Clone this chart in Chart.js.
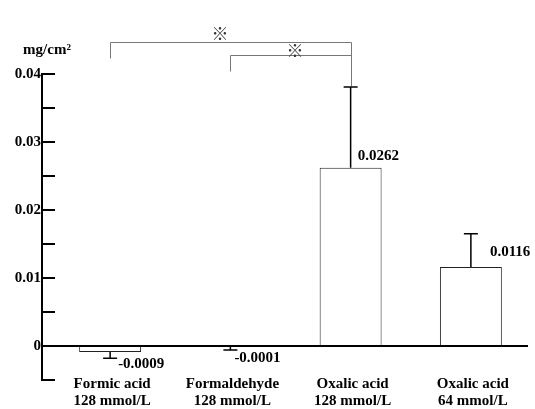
<!DOCTYPE html>
<html>
<head>
<meta charset="utf-8">
<script src="https://cdn.jsdelivr.net/npm/chart.js@4"></script>
<style>body{margin:0;background:#fff}</style>
</head>
<body>
<canvas id="myChart" width="535" height="409"></canvas>
<script>
// Data
const categories = [['Formic acid', '128 mmol/L'], ['Formaldehyde', '128 mmol/L'], ['Oxalic acid', '128 mmol/L'], ['Oxalic acid', '64 mmol/L']];
const means = [-0.0009, -0.0001, 0.0262, 0.0116];
const sds = [0.0009, 0.0005, 0.0119, 0.0049];
const yTickLabels = [0, 0.01, 0.02, 0.03, 0.04];
const sigPairs = [[0, 2], [1, 2]]; // pairs marked with ※

const serif = '"Liberation Serif", "Times New Roman", serif';
// where the value labels sit, relative to the bar end (px)
const labelOffsets = [[8, 12], [4, 11], [7, -12], [19, -15]];

const overlay = {
    id: 'overlay',
    afterDraw(chart) {
        const c = chart.ctx;
        const x = chart.scales.x, y = chart.scales.y;
        const axisX = chart.chartArea.left - 8;
        c.save();

        // axes
        c.strokeStyle = '#000';
        c.lineWidth = 2;
        c.beginPath();
        c.moveTo(axisX, y.getPixelForValue(0.04) - 1);
        c.lineTo(axisX, y.getPixelForValue(-0.005) + 1);
        c.moveTo(axisX, y.getPixelForValue(0));
        c.lineTo(chart.chartArea.right - 3, y.getPixelForValue(0));
        for (let k = -1; k <= 8; k++) {
            const py = y.getPixelForValue(k * 0.005);
            c.moveTo(axisX, py);
            c.lineTo(axisX + 13, py);
        }
        c.stroke();

        // error bars
        c.lineWidth = 1.5;
        means.forEach((m, i) => {
            const cx = x.getPixelForValue(i);
            const end = m >= 0 ? m + sds[i] : m - sds[i];
            const p0 = y.getPixelForValue(m), p1 = y.getPixelForValue(end);
            c.beginPath();
            c.moveTo(cx, p0);
            c.lineTo(cx, p1);
            c.moveTo(cx - 7, p1);
            c.lineTo(cx + 7, p1);
            c.stroke();
        });

        // value labels
        c.fillStyle = '#000';
        c.font = 'bold 15px ' + serif;
        c.textAlign = 'left';
        c.textBaseline = 'middle';
        means.forEach((m, i) => {
            const cx = x.getPixelForValue(i);
            c.fillText(m.toFixed(4), cx + labelOffsets[i][0], y.getPixelForValue(m) + labelOffsets[i][1]);
        });

        // category labels
        c.textAlign = 'center';
        categories.forEach((lines, i) => {
            const cx = x.getPixelForValue(i) + 2;
            lines.forEach((t, k) => c.fillText(t, cx, 384 + k * 17));
        });

        // unit
        c.fillText('mg/cm²', 47, 50);

        // significance brackets
        c.strokeStyle = '#777';
        c.lineWidth = 1;
        const rows = [42, 55];
        sigPairs.forEach((pr, j) => {
            const xa = Math.round(x.getPixelForValue(pr[0])) + 0.5;
            const xb = Math.round(x.getPixelForValue(pr[1])) + 0.5;
            const top = rows[j] + 0.5;
            c.beginPath();
            c.moveTo(xa, top + 16);
            c.lineTo(xa, top);
            c.lineTo(xb, top);
            c.lineTo(xb, y.getPixelForValue(means[pr[1]] + sds[pr[1]]) - 1);
            c.stroke();
            c.fillStyle = '#333';
            c.font = 'bold 17px "Noto Sans CJK JP"';
            c.fillText('※', j === 0 ? (xa + xb) / 2 - 11 : (xa + xb) / 2 + 4, top - (j === 0 ? 9 : 5));
        });
        c.restore();
    }
};

const ctx = document.getElementById('myChart').getContext('2d');
const myChart = new Chart(ctx, {
    type: 'bar',
    data: {
        labels: categories,
        datasets: [{
            data: means,
            backgroundColor: '#fff',
            borderColor: '#222',
            borderWidth: 1,
            borderSkipped: false,
            categoryPercentage: 1,
            barPercentage: 0.515
        }]
    },
    options: {
        responsive: false,
        animation: false,
        layout: { padding: { top: 74, right: 4, left: 0, bottom: 0 } },
        plugins: { legend: { display: false }, tooltip: { enabled: false } },
        scales: {
            x: {
                grid: { display: false, drawTicks: false },
                border: { display: false },
                ticks: { display: false },
                afterFit(s) { s.height = 29; }
            },
            y: {
                min: -0.005,
                max: 0.04,
                grid: { display: false, drawTicks: false },
                border: { display: false },
                ticks: {
                    stepSize: 0.005,
                    padding: 9,
                    color: '#000',
                    font: { family: serif, size: 15, weight: 'bold' },
                    callback: (v) => {
                        const hit = yTickLabels.find(t => Math.abs(t - v) < 1e-6);
                        if (hit === undefined) return '';
                        return hit === 0 ? '0' : hit.toFixed(2);
                    }
                },
                afterFit(s) { s.width = 50; }
            }
        }
    },
    plugins: [overlay]
});
</script>
</body>
</html>
